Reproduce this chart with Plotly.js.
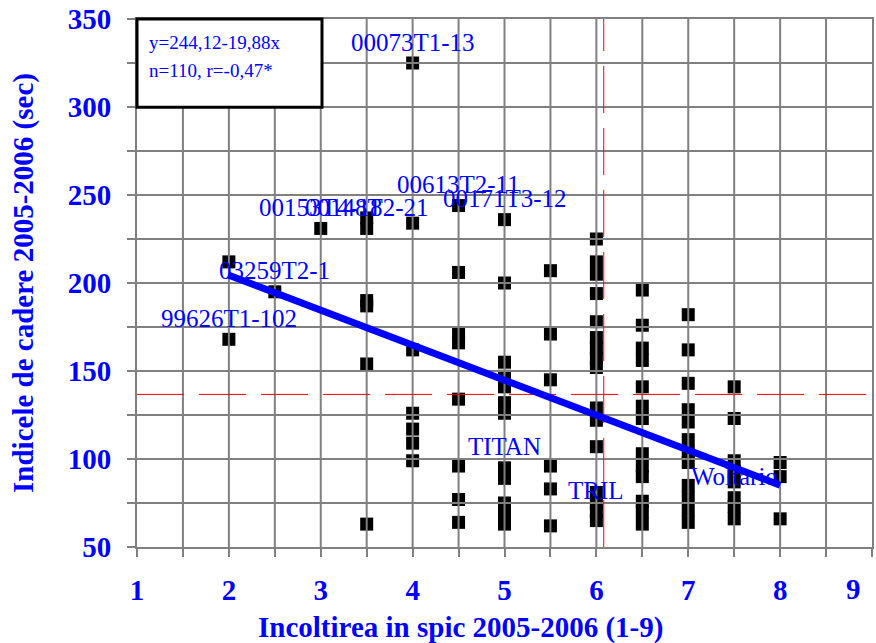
<!DOCTYPE html>
<html>
<head>
<meta charset="utf-8">
<script src="https://cdn.plot.ly/plotly-3.0.1.min.js"></script>
<style>html,body{margin:0;padding:0;background:#fff;}#chart{width:876px;height:643px;}</style>
</head>
<body>
<div id="chart"></div>
<script>
// Incoltirea in spic (1-9) for each genotype
const incoltire = [
  2, 2,
  2.5,
  3,
  3.5, 3.5, 3.5, 3.5, 3.5, 3.5,
  4, 4, 4, 4, 4, 4, 4,
  4.5, 4.5, 4.5, 4.5, 4.5, 4.5, 4.5, 4.5,
  5, 5, 5, 5, 5, 5, 5, 5, 5, 5, 5, 5,
  5.5, 5.5, 5.5, 5.5, 5.5, 5.5,
  6, 6, 6, 6, 6, 6, 6, 6, 6, 6, 6, 6, 6, 6, 6, 6,
  6.5, 6.5, 6.5, 6.5, 6.5, 6.5, 6.5, 6.5, 6.5, 6.5, 6.5, 6.5, 6.5,
  7, 7, 7, 7, 7, 7, 7, 7, 7, 7, 7, 7,
  7.5, 7.5, 7.5, 7.5, 7.5, 7.5, 7.5, 7.5,
  8, 8, 8
];
// Indicele de cadere (sec)
const indice = [
  212, 168,
  195,
  231,
  237, 231, 190, 187, 154, 63,
  325, 234, 162, 126, 117, 109, 99,
  244, 206, 171, 166, 134, 96, 77, 64,
  236, 200, 155, 147, 141, 132, 126, 95, 89, 75, 69, 63,
  207, 171, 145, 96, 83, 62,
  225, 212, 205, 194, 178, 169, 163, 157, 152, 129, 122, 107, 81, 75, 70, 65,
  196, 176, 163, 156, 141, 130, 123, 103, 96, 90, 76, 70, 63,
  182, 162, 143, 128, 121, 111, 104, 98, 85, 78, 71, 64,
  141, 123, 99, 93, 87, 78, 73, 66,
  98, 90, 66
];
// labelled genotypes
const labelText = ["00073T1-13", "00153T4-18", "00148T2-21", "00613T2-11", "00171T3-12", "03259T2-1", "99626T1-102", "TITAN", "TRIL", "Woltario"];
const labelX = [4, 3, 3.5, 4.5, 5, 2.5, 2, 5, 6, 7.5];
const labelY = [325, 231, 231, 244, 236, 195, 168, 95, 70, 78];
// regression line y = 244.12 - 19.88x
const trendX = [2, 8];
const trendY = [204.4, 85.1];
// means (red dashed reference lines)
const meanX = 6.08;
const meanY = 136.7;
const equationLines = ["y=244,12-19,88x", "n=110, r=-0,47*"];
const xTicks = [1, 2, 3, 4, 5, 6, 7, 8, 9];
const yTicks = [50, 100, 150, 200, 250, 300, 350];
const xTitle = 'Incoltirea in spic 2005-2006 (1-9)';
const yTitle = 'Indicele de cadere 2005-2006 (sec)';

const X_RANGE = [1, 9], Y_RANGE = [50, 350];
const GRID = '#808080', BLUE = '#0000ff', SERIF = 'Liberation Serif, Times New Roman, serif';

// grid drawn as a trace so it sits above markers but under the regression line
const gx = [], gy = [];
for (let v = X_RANGE[0] + 0.5; v < X_RANGE[1]; v += 0.5) { gx.push(v, v, null); gy.push(Y_RANGE[0], Y_RANGE[1], null); }
for (let v = Y_RANGE[0] + 25; v < Y_RANGE[1]; v += 25) { gx.push(X_RANGE[0], X_RANGE[1], null); gy.push(v, v, null); }

const traces = [
  { type: 'scatter', mode: 'markers', x: incoltire, y: indice,
    marker: { symbol: 'square', size: 13, color: '#000000' }, hoverinfo: 'x+y', showlegend: false, cliponaxis: false },
  { type: 'scatter', mode: 'lines', x: gx, y: gy, line: { color: GRID, width: 2 }, hoverinfo: 'skip', showlegend: false },
  { type: 'scatter', mode: 'lines', x: [X_RANGE[0], X_RANGE[1]], y: [meanY, meanY],
    line: { color: '#ff0000', width: 1, dash: '47px,15px' }, hoverinfo: 'skip', showlegend: false },
  { type: 'scatter', mode: 'lines', x: [meanX, meanX], y: [Y_RANGE[0], Y_RANGE[1]],
    line: { color: '#ff0000', width: 1, dash: '47px,15px' }, hoverinfo: 'skip', showlegend: false },
  { type: 'scatter', mode: 'lines', x: trendX, y: trendY, line: { color: BLUE, width: 7 }, hoverinfo: 'skip', showlegend: false }
];

const axisFont = { family: SERIF, size: 29, color: BLUE, weight: 'bold' };

const annotations = labelText.map((t, i) => ({
  x: labelX[i], y: labelY[i], xref: 'x', yref: 'y', text: t, showarrow: false, yshift: 21,
  font: { family: SERIF, size: 25, color: BLUE }
}));
equationLines.forEach((t, i) => annotations.push({
  x: 0.0136, y: [0.956, 0.903][i], xref: 'paper', yref: 'paper', xanchor: 'left', yanchor: 'middle',
  text: t, showarrow: false, font: { family: SERIF, size: 19, color: BLUE }
}));
// last x tick label kept inside the picture (as in the source)
const lastTick = xTicks[xTicks.length - 1];
annotations.push({
  x: lastTick, y: -0.0795, xref: 'x', yref: 'paper', xanchor: 'right', yanchor: 'middle', xshift: -9,
  text: String(lastTick), showarrow: false, font: axisFont
});
// x axis title (offset to the left of the plot centre, as in the source)
annotations.push({
  x: 0.4395, y: -0.1534, xref: 'paper', yref: 'paper', xanchor: 'center', yanchor: 'middle',
  text: xTitle, showarrow: false, font: axisFont
});

const layout = {
  width: 876, height: 643,
  margin: { l: 137, r: 4, t: 19, b: 96 },
  paper_bgcolor: '#ffffff', plot_bgcolor: '#ffffff',
  showlegend: false,
  xaxis: {
    range: X_RANGE, tickvals: xTicks, ticktext: xTicks.map((v, i) => i === xTicks.length - 1 ? '' : String(v)),
    ticks: 'outside', ticklen: 8, tickwidth: 2, tickcolor: GRID,
    minor: { dtick: 0.5, tick0: 1, ticks: 'outside', ticklen: 8, tickwidth: 2, tickcolor: GRID, showgrid: false },
    showgrid: false, zeroline: false, showline: true, linecolor: GRID, linewidth: 2, mirror: true,
    tickfont: axisFont, ticklabelstandoff: 8
  },
  yaxis: {
    range: Y_RANGE, tickvals: yTicks, ticktext: yTicks.map(String),
    ticks: 'outside', ticklen: 8, tickwidth: 2, tickcolor: GRID,
    minor: { dtick: 25, tick0: 50, ticks: 'outside', ticklen: 8, tickwidth: 2, tickcolor: GRID, showgrid: false },
    showgrid: false, zeroline: false, showline: true, linecolor: GRID, linewidth: 2, mirror: true,
    tickfont: axisFont, ticklabelstandoff: 10, ticklabeloverflow: 'allow',
    title: { text: yTitle, font: axisFont, standoff: 26 }
  },
  shapes: [
    { type: 'rect', xref: 'paper', yref: 'paper', x0: 0, x1: 0.2517, y0: 0.833, y1: 1,
      fillcolor: '#ffffff', line: { color: '#000000', width: 3 }, layer: 'above' }
  ],
  annotations: annotations
};

Plotly.newPlot('chart', traces, layout, { displayModeBar: false, staticPlot: true });
</script>
</body>
</html>
